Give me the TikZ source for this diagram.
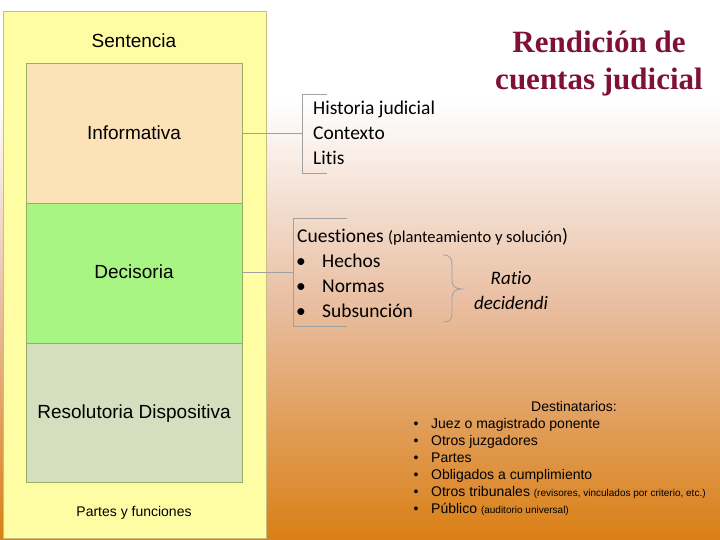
\documentclass[tikz,border=0pt]{standalone}
\usepackage{fontspec}
\setmainfont{Liberation Sans}
\newfontfamily\carl[Ligatures=NoCommon]{Carlito}
\newfontfamily\ttlfont{Liberation Serif}
\definecolor{bgmid}{RGB}{233,191,163}
\definecolor{bgbot}{RGB}{217,127,21}
\definecolor{outerfill}{RGB}{255,253,163}
\definecolor{outerdraw}{RGB}{200,190,130}
\definecolor{infofill}{RGB}{253,226,184}
\definecolor{decfill}{RGB}{168,245,132}
\definecolor{resfill}{RGB}{213,222,190}
\definecolor{innerdraw}{RGB}{150,175,100}
\definecolor{brk}{RGB}{160,160,160}
\definecolor{ttlcol}{RGB}{128,16,56}
\tikzset{
  partbox/.style={draw=innerdraw, line width=0.8pt},
  arialbig/.style={font=\fontsize{19}{23}\selectfont, inner sep=0pt},
  carltext/.style={font=\carl\fontsize{19.5}{23}\selectfont, inner sep=0pt, anchor=base west},
  desttext/.style={font=\fontsize{14}{17}\selectfont, inner sep=0pt, anchor=base west},
  bulletmark/.style={inner sep=0pt, anchor=base},
  bracketline/.style={draw=brk, line width=0.9pt},
}
\begin{document}
\begin{tikzpicture}[x=1pt,y=-1pt]
\useasboundingbox (0,0) rectangle (720,540);
% background
\fill[white] (0,0) rectangle (720,101);
\shade[top color=white, bottom color=bgmid] (0,100) rectangle (720,301);
\shade[top color=bgmid, bottom color=bgbot] (0,300) rectangle (720,540);

% left column
\node[draw=outerdraw, fill=outerfill, line width=0.8pt, minimum width=263pt, minimum height=527pt, inner sep=0pt] (outer) at (134.5,274.5) {};
\node[partbox, fill=infofill, minimum width=216pt, minimum height=140pt, inner sep=0pt] (info) at (134,133) {};
\node[partbox, fill=decfill, minimum width=216pt, minimum height=140pt, inner sep=0pt] (dec) at (134,273) {};
\node[partbox, fill=resfill, minimum width=216pt, minimum height=139pt, inner sep=0pt] (res) at (134,412.5) {};

\node[arialbig, anchor=base] (tsent) at (134,48) {Sentencia};
\node[arialbig, anchor=base] (tinfo) at (134,140) {Informativa};
\node[arialbig, anchor=base] (tdec) at (134,278) {Decisoria};
\node[arialbig, anchor=base] (tres) at (134,418) {Resolutoria Dispositiva};
\node[font=\fontsize{14}{17}\selectfont, inner sep=0pt, anchor=base] (tpartes) at (134,516) {Partes y funciones};

% title
\node[font=\ttlfont\bfseries\fontsize{31}{37}\selectfont, text=ttlcol, align=center, inner sep=0pt, anchor=base] (title) at (599,90) {Rendición de\\cuentas judicial};

% informativa bracket
\coordinate (b1top) at (302,94);
\coordinate (b1bot) at (302,173);
\coordinate (b1mid) at (302,133);
\coordinate (b1topend) at (327,94);
\coordinate (b1botend) at (327,173);
\draw[bracketline] (b1topend) -- (b1top) -- (b1bot) -- (b1botend);
\draw[bracketline] (info.east |- b1mid) -- (b1mid);
\node[carltext] (hist) at (313,115) {Historia judicial};
\node[carltext] (ctx) at (313,140) {Contexto};
\node[carltext] (litis) at (313,165) {Litis};

% decisoria bracket
\coordinate (b2top) at (293,218);
\coordinate (b2bot) at (293,326);
\coordinate (b2mid) at (293,272);
\coordinate (b2topend) at (347,218);
\coordinate (b2botend) at (347,326);
\draw[bracketline] (b2topend) -- (b2top) -- (b2bot) -- (b2botend);
\draw[bracketline] (dec.east |- b2mid) -- (b2mid);
\node[carltext] (cuest) at (297,242) {Cuestiones {\fontsize{16.5}{19}\selectfont(planteamiento y solución})};
\node[carltext] (bu1) at (296,267) {•};
\node[carltext] (bu2) at (296,292) {•};
\node[carltext] (bu3) at (296,317) {•};
\node[carltext] (hechos) at (322,267) {Hechos};
\node[carltext] (normas) at (322,292) {Normas};
\node[carltext] (subs) at (322,317) {Subsunción};

% brace
\coordinate (brtop) at (443,255);
\coordinate (brtip) at (462,289);
\coordinate (brbot) at (443,322);
\draw[draw=brk, line width=0.8pt] (brtop) .. controls (451,255) and (452,259) .. (452,266) -- (452,280) .. controls (452,286) and (455,289) .. (brtip)
  .. controls (455,289) and (452,292) .. (452,298) -- (452,312) .. controls (452,319) and (451,322) .. (brbot);
\node[font=\carl\itshape\fontsize{19}{25}\selectfont, align=center, inner sep=0pt, anchor=base] (ratio) at (511,309) {Ratio\\decidendi};

% destinatarios
\node[desttext, anchor=base] (dest) at (574,411) {Destinatarios:};
\foreach \yy/\nm in {428/d1,445/d2,462/d3,479/d4,496/d5,513/d6}{
  \node[bulletmark, font=\fontsize{14}{17}\selectfont] (b\nm) at (416,\yy) {•};
}
\node[desttext] (d1) at (431,428) {Juez o magistrado ponente};
\node[desttext] (d2) at (431,445) {Otros juzgadores};
\node[desttext] (d3) at (431,462) {Partes};
\node[desttext] (d4) at (431,479) {Obligados a cumplimiento};
\node[desttext] (d5) at (431,496) {Otros tribunales {\fontsize{10}{12}\selectfont(revisores, vinculados por criterio, etc.)}};
\node[desttext] (d6) at (431,513) {Público {\fontsize{10}{12}\selectfont(auditorio universal)}};
\end{tikzpicture}
\end{document}
